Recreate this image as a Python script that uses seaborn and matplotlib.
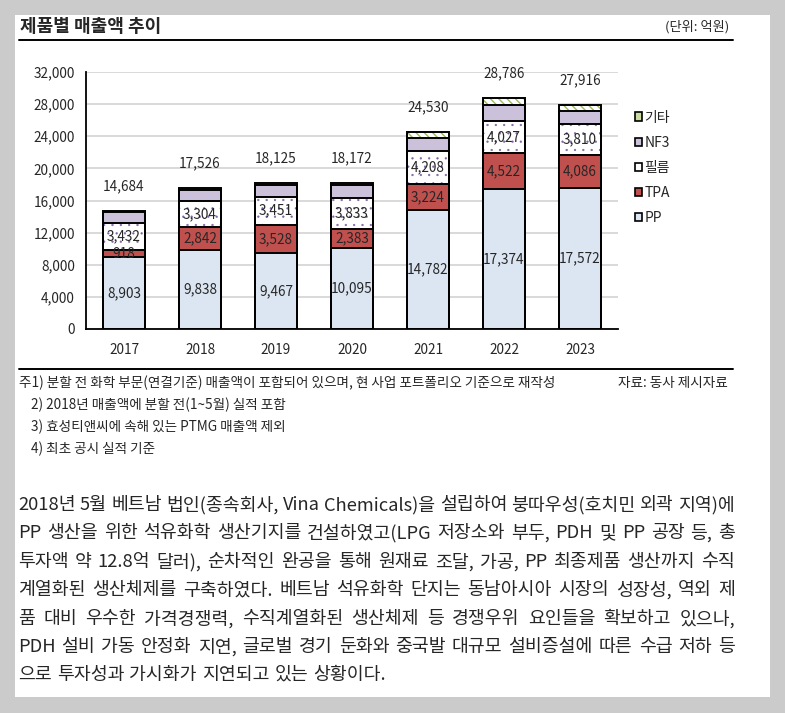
import matplotlib
matplotlib.use('Agg')
import matplotlib.pyplot as plt
import pandas as pd
import seaborn as sns
from matplotlib.patches import Patch, Rectangle
from matplotlib.lines import Line2D
from matplotlib.ticker import FixedLocator, FuncFormatter

# data (단위: 억원)
years = ['2017', '2018', '2019', '2020', '2021', '2022', '2023']
pp = [8903, 9838, 9467, 10095, 14782, 17374, 17572]
tpa = [918, 2842, 3528, 2383, 3224, 4522, 4086]
film = [3432, 3304, 3451, 3833, 4208, 4027, 3810]
nf3 = [1300, 1340, 1500, 1600, 1550, 1950, 1700]   # estimated, not labelled
etc = [131, 202, 179, 261, 766, 913, 748]          # estimated, not labelled
totals = [14684, 17526, 18125, 18172, 24530, 28786, 27916]
yticks = list(range(0, 32001, 4000))

series = ['PP', 'TPA', '필름', 'NF3', '기타']
labelled = ['PP', 'TPA', '필름']

title = '제품별 매출액 추이'
unit = '(단위: 억원)'
notes = [
    '주1) 분할 전 화학 부문(연결기준) 매출액이 포함되어 있으며, 현 사업 포트폴리오 기준으로 재작성',
    '2) 2018년 매출액에 분할 전(1~5월) 실적 포함',
    '3) 효성티앤씨에 속해 있는 PTMG 매출액 제외',
    '4) 최초 공시 실적 기준',
]
source = '자료: 동사 제시자료'
paragraph = [
    '2018년 5월 베트남 법인(종속회사, Vina Chemicals)을 설립하여 붕따우성(호치민 외곽 지역)에',
    'PP 생산을 위한 석유화학 생산기지를 건설하였고(LPG 저장소와 부두, PDH 및 PP 공장 등, 총',
    '투자액 약 12.8억 달러), 순차적인 완공을 통해 원재료 조달, 가공, PP 최종제품 생산까지 수직',
    '계열화된 생산체제를 구축하였다. 베트남 석유화학 단지는 동남아시아 시장의 성장성, 역외 제',
    '품 대비 우수한 가격경쟁력, 수직계열화된 생산체제 등 경쟁우위 요인들을 확보하고 있으나,',
    'PDH 설비 가동 안정화 지연, 글로벌 경기 둔화와 중국발 대규모 설비증설에 따른 수급 저하 등',
    '으로 투자성과 가시화가 지연되고 있는 상황이다.',
]

df = pd.DataFrame({'year': years, 'PP': pp, 'TPA': tpa, '필름': film, 'NF3': nf3, '기타': etc})
cum = df[series].cumsum(axis=1)
cum['year'] = years

styles = {
    'PP': dict(face='#dce6f2', hatch=None, hc=None, hlw=None, leg='#dce6f2'),
    'TPA': dict(face='#c0504d', hatch=None, hc=None, hlw=None, leg='#c0504d'),
    '필름': dict(face='white', hatch='..', hc='#8064a2', hlw=0.4, leg='white'),
    'NF3': dict(face='#ccc1da', hatch=None, hc=None, hlw=None, leg='#ccc1da'),
    '기타': dict(face='white', hatch='\\\\\\\\', hc='#9bbb59', hlw=1.0, leg='#c9dba0'),
}

sns.set_style('white')
plt.rcParams['font.family'] = ['Noto Sans CJK KR', 'DejaVu Sans']

W, H = 785, 713
def fx(px):
    return px / W
def fy(py):
    return 1 - py / H

fig = plt.figure(figsize=(W / 100, H / 100), dpi=100, facecolor='#cbcbcb')
fig.patches.append(Rectangle((fx(15), fy(697)), fx(770) - fx(15), fy(15) - fy(697),
                             transform=fig.transFigure, facecolor='white', edgecolor='none', zorder=-5))
ax = fig.add_axes([fx(86), fy(329), fx(618) - fx(86), fy(72) - fy(329)])
ax.set_facecolor('none')

bar_w = 0.55
# fills: draw cumulative bars from the top layer down
for s in reversed(series):
    st = styles[s]
    n0 = len(ax.patches)
    if st['hlw']:
        plt.rcParams['hatch.linewidth'] = st['hlw']
    sns.barplot(data=cum, x='year', y=s, color=st['face'], saturation=1, width=bar_w, ax=ax, zorder=2)
    for p in ax.patches[n0:]:
        p.set_facecolor(st['face'])
        if st['hatch']:
            p.set_hatch(st['hatch'])
            p.set_edgecolor(st['hc'])
            if hasattr(p, 'set_hatch_linewidth'):
                p.set_hatch_linewidth(st['hlw'])
        else:
            p.set_edgecolor('none')
        p.set_linewidth(0)
# black outlines of every segment
for s in series:
    n0 = len(ax.patches)
    sns.barplot(data=cum, x='year', y=s, color='white', width=bar_w, ax=ax, zorder=3)
    for p in ax.patches[n0:]:
        p.set_facecolor('none')
        p.set_hatch(None)
        p.set_edgecolor('black')
        p.set_linewidth(1.4)

# segment labels
for s in labelled:
    for i, y in enumerate(years):
        top = cum.loc[i, s]
        ax.text(i, top - df.loc[i, s] / 2, f'{df.loc[i, s]:,}', ha='center', va='center',
                fontsize=9.8, zorder=5)
# totals
for i, t in enumerate(totals):
    ax.annotate(f'{t:,}', (i, t), xytext=(0, 18), textcoords='offset points',
                ha='center', va='center', fontsize=9.8)

ax.set_ylim(0, 32000)
ax.set_xlim(-0.5, len(years) - 0.5)
ax.set_yticks(yticks)
ax.yaxis.set_major_formatter(FuncFormatter(lambda v, p: f'{int(v):,}'))
ax.xaxis.set_minor_locator(FixedLocator([i - 0.5 for i in range(len(years) + 1)]))
ax.tick_params(axis='x', which='major', length=0, pad=10, labelsize=9.8)
ax.tick_params(axis='x', which='minor', length=4, width=1.2, direction='out', color='black')
ax.tick_params(axis='y', length=4, width=1.2, direction='out', color='black', pad=4, labelsize=9.8)
ax.yaxis.grid(True, color='#d9d9d9', lw=1.4)
ax.set_axisbelow(True)
ax.set_xlabel('')
ax.set_ylabel('')
sns.despine(ax=ax)
for sp in ['left', 'bottom']:
    ax.spines[sp].set_color('black')
    ax.spines[sp].set_linewidth(1.3)

# legend, top layer first
handles = []
for s in reversed(series):
    handles.append(Patch(facecolor=styles[s]['leg'], edgecolor='black', linewidth=1.2, label=s))
leg = fig.legend(handles=handles, loc='upper left', bbox_to_anchor=(fx(629), fy(105)),
                 frameon=False, fontsize=10, handlelength=0.55, handleheight=0.55,
                 handletextpad=0.15, labelspacing=0.8, borderaxespad=0)

# header
fig.text(fx(20), fy(26), title, fontsize=13, fontweight='bold', va='center', ha='left')
fig.text(fx(729), fy(27), unit, fontsize=9.5, va='center', ha='right')
fig.add_artist(Line2D([fx(19), fx(733)], [fy(40), fy(40)], color='black', lw=1.4,
                      transform=fig.transFigure))
fig.add_artist(Line2D([fx(19), fx(733)], [fy(369), fy(369)], color='black', lw=1.4,
                      transform=fig.transFigure))

# footnotes
note_x = [19, 31, 31, 31]
note_y = [383, 405, 427, 449]
for x, y, t in zip(note_x, note_y, notes):
    fig.text(fx(x), fy(y), t, fontsize=9.8, va='center', ha='left')
fig.text(fx(728), fy(383), source, fontsize=9.8, va='center', ha='right')

# body paragraph, justified word by word
renderer = fig.canvas.get_renderer()
para_y = [505, 533, 562, 590, 619, 647, 675]
para_left, para_right = 18, 735
for k, line in enumerate(paragraph):
    words = line.split(' ')
    objs = [fig.text(0, fy(para_y[k]), w, fontsize=13.2, va='center', ha='left') for w in words]
    widths = [o.get_window_extent(renderer).width for o in objs]
    if k < len(paragraph) - 1:
        gap = (para_right - para_left - sum(widths)) / (len(words) - 1)
    else:
        gap = 5
    x = para_left
    for o, w in zip(objs, widths):
        o.set_x(fx(x))
        x += w + gap

fig.savefig('out.png', dpi=100, facecolor=fig.get_facecolor())
